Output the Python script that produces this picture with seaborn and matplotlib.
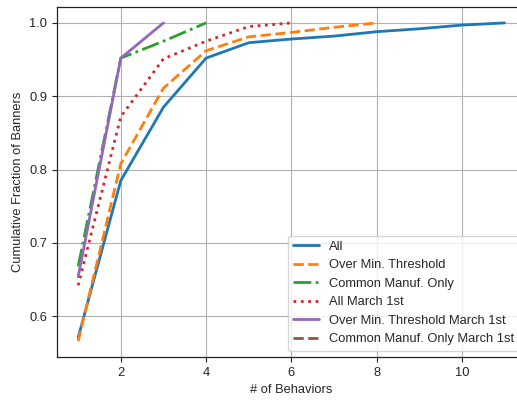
import matplotlib
matplotlib.use("Agg")
import matplotlib.pyplot as plt
import seaborn as sns
import pandas as pd

sns.set_style("ticks")
plt.rcParams['font.family'] = ['Liberation Sans', 'DejaVu Sans']

# Data
all_x = [1, 2, 3, 4, 5, 6, 7, 8, 9, 10, 11]
all_y = [0.571, 0.785, 0.885, 0.952, 0.973, 0.978, 0.982, 0.988, 0.992, 0.997, 1.0]

thr_x = [1, 2, 3, 4, 5, 6, 7, 8]
thr_y = [0.566, 0.808, 0.911, 0.962, 0.981, 0.987, 0.994, 1.0]

com_x = [1, 2, 3, 4]
com_y = [0.668, 0.952, 0.975, 1.0]

allm_x = [1, 2, 3, 4, 5, 6]
allm_y = [0.642, 0.872, 0.951, 0.975, 0.995, 1.0]

thrm_x = [1, 2, 3]
thrm_y = [0.654, 0.952, 1.0]

comm_x = []
comm_y = []

labels = ["All", "Over Min. Threshold", "Common Manuf. Only", "All March 1st",
          "Over Min. Threshold March 1st", "Common Manuf. Only March 1st"]

series = [(all_x, all_y), (thr_x, thr_y), (com_x, com_y),
          (allm_x, allm_y), (thrm_x, thrm_y), (comm_x, comm_y)]
colors = sns.color_palette("tab10")
styles = ['-', '--', '-.', ':', '-', '--']

FS = 9.3

fig = plt.figure(figsize=(5.17, 4.0), dpi=100)
ax = fig.add_axes([0.110, 0.1075, 0.907, 0.875])

for (xs, ys), lab, c, ls in zip(series, labels, colors, styles):
    if len(xs) > 0:
        sns.lineplot(x=xs, y=ys, ax=ax, color=c, linestyle=ls, linewidth=2, label=lab)
    else:
        ax.plot(xs, ys, color=c, linestyle=ls, linewidth=2, label=lab)

ax.grid(True, color='#b0b0b0', linewidth=0.8)
for s in ax.spines.values():
    s.set_color('#222222')
    s.set_linewidth(0.9)
ax.tick_params(axis='both', labelsize=FS, color='#222222', length=3.5, width=0.8,
               direction='out', bottom=True, left=True)
ax.set_xlabel("# of Behaviors", fontsize=FS)
ax.set_ylabel("Cumulative Fraction of Banners", fontsize=FS)
ax.set_xticks([2, 4, 6, 8, 10])
ax.set_yticks([0.6, 0.7, 0.8, 0.9, 1.0])
ax.margins(x=0.05, y=0.05)
ax.legend(loc='lower right', fontsize=FS, frameon=True)

fig.savefig("out.png", dpi=100)
